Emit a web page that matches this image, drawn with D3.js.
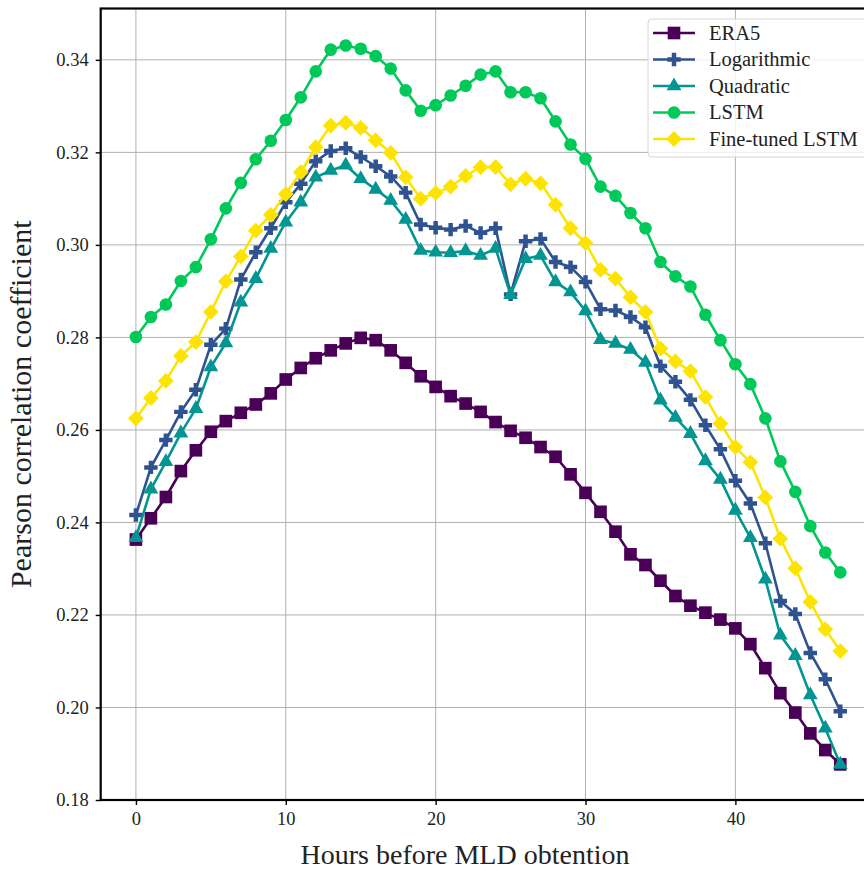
<!DOCTYPE html>
<html>
<head>
<meta charset="utf-8">
<script src="https://cdn.jsdelivr.net/npm/d3@7"></script>
<style>
    body { margin: 0; background: #fff; }
    svg { display: block; font-family: "Liberation Serif", "DejaVu Serif", serif; }
    .grid line { stroke: #b0b0b0; stroke-width: 1; }
</style>
</head>
<body>
<svg id="chart"></svg>
<script>
//----------------------------//
//            DATA            //
//----------------------------//
const hours = d3.range(0, 48);

const era5 = [0.2363, 0.2409, 0.2455, 0.2511, 0.2556, 0.2596, 0.2619, 0.2637, 0.2655, 0.2679,
    0.2709, 0.2734, 0.2755, 0.2772, 0.2787, 0.2799, 0.2794, 0.2772, 0.2745, 0.2716,
    0.2693, 0.2673, 0.2657, 0.2639, 0.2617, 0.2598, 0.2583, 0.2563, 0.2542, 0.2504,
    0.2464, 0.2423, 0.2380, 0.2331, 0.2308, 0.2274, 0.2241, 0.2220, 0.2205, 0.2190,
    0.2171, 0.2137, 0.2085, 0.2031, 0.1989, 0.1944, 0.1908, 0.1877];

const logarithmic = [0.2416, 0.2519, 0.2578, 0.2639, 0.2687, 0.2784, 0.2819, 0.2925, 0.2984, 0.3036,
    0.3092, 0.3132, 0.3181, 0.3203, 0.3209, 0.3190, 0.3170, 0.3148, 0.3113, 0.3044,
    0.3037, 0.3033, 0.3041, 0.3026, 0.3036, 0.2893, 0.3008, 0.3013, 0.2963, 0.2952,
    0.2920, 0.2861, 0.2858, 0.2844, 0.2822, 0.2738, 0.2704, 0.2665, 0.2610, 0.2558,
    0.2490, 0.2441, 0.2355, 0.2230, 0.2202, 0.2118, 0.2061, 0.1992];

const quadratic = [0.2367, 0.2472, 0.2531, 0.2593, 0.2646, 0.2736, 0.2788, 0.2876, 0.2927, 0.2992,
    0.3049, 0.3092, 0.3146, 0.3161, 0.3172, 0.3143, 0.3120, 0.3096, 0.3055, 0.2988,
    0.2984, 0.2983, 0.2987, 0.2977, 0.2992, 0.2892, 0.2970, 0.2977, 0.2920, 0.2898,
    0.2857, 0.2795, 0.2787, 0.2774, 0.2746, 0.2664, 0.2627, 0.2592, 0.2533, 0.2493,
    0.2426, 0.2367, 0.2277, 0.2156, 0.2112, 0.2027, 0.1955, 0.1877];

const lstm = [0.2801, 0.2844, 0.2871, 0.2922, 0.2952, 0.3012, 0.3079, 0.3134, 0.3185, 0.3225,
    0.3270, 0.3319, 0.3375, 0.3422, 0.3431, 0.3424, 0.3408, 0.3381, 0.3334, 0.3290,
    0.3302, 0.3323, 0.3344, 0.3368, 0.3375, 0.3330, 0.3330, 0.3317, 0.3267, 0.3217,
    0.3186, 0.3126, 0.3106, 0.3069, 0.3036, 0.2963, 0.2932, 0.2910, 0.2849, 0.2794,
    0.2742, 0.2699, 0.2625, 0.2532, 0.2466, 0.2392, 0.2335, 0.2292];

const fineTuned = [0.2625, 0.2669, 0.2706, 0.2760, 0.2790, 0.2855, 0.2921, 0.2975, 0.3031, 0.3065,
    0.3110, 0.3157, 0.3211, 0.3258, 0.3264, 0.3253, 0.3226, 0.3199, 0.3146, 0.3100,
    0.3112, 0.3126, 0.3149, 0.3168, 0.3168, 0.3131, 0.3143, 0.3133, 0.3087, 0.3036,
    0.3004, 0.2946, 0.2927, 0.2887, 0.2855, 0.2776, 0.2748, 0.2727, 0.2671, 0.2614,
    0.2563, 0.2530, 0.2454, 0.2365, 0.2301, 0.2228, 0.2169, 0.2122];

const seriesNames = ["ERA5", "Logarithmic", "Quadratic", "LSTM", "Fine-tuned LSTM"];
const seriesValues = [era5, logarithmic, quadratic, lstm, fineTuned];
const seriesColors = ["#4a0057", "#2f5290", "#039591", "#00c95a", "#fde400"];

const xTicks = [0, 10, 20, 30, 40];
const yTicks = [0.18, 0.20, 0.22, 0.24, 0.26, 0.28, 0.30, 0.32, 0.34];

//----------------------------//
//           MARKERS          //
//----------------------------//
// d3 symbol + size (area) + rotation, per series
const markers = [
    { type: d3.symbolSquare, size: 160, rotate: 0 },
    { type: d3.symbolCross, size: 100, rotate: 0 },
    { type: d3.symbolTriangle, size: 95, rotate: 0 },
    { type: d3.symbolCircle, size: 125, rotate: 0 },
    { type: d3.symbolSquare, size: 125, rotate: 45 }
];

// --- Plotting Module ---
function plotChart() {
    const W = 864, H = 871;
    const left = 100.7, top = 8.5, bottom = 800, right = 875.5;

    const svg = d3.select('#chart')
        .attr('width', W)
        .attr('height', H);

    const x = d3.scaleLinear().domain([-2.35, 49.35]).range([left, right]);
    const y = d3.scaleLinear().domain([0.18, 0.3511]).range([bottom, top]);

    // grid
    const grid = svg.append('g').attr('class', 'grid');
    grid.selectAll('.gx').data(xTicks).enter().append('line')
        .attr('x1', d => x(d)).attr('x2', d => x(d))
        .attr('y1', top).attr('y2', bottom);
    grid.selectAll('.gy').data(yTicks).enter().append('line')
        .attr('x1', left).attr('x2', right)
        .attr('y1', d => y(d)).attr('y2', d => y(d));

    // series
    const line = d3.line()
        .x((d, i) => x(hours[i]))
        .y(d => y(d));

    seriesValues.forEach((vals, k) => {
        const g = svg.append('g');
        g.append('path')
            .datum(vals)
            .attr('fill', 'none')
            .attr('stroke', seriesColors[k])
            .attr('stroke-width', 2.6)
            .attr('stroke-linejoin', 'round')
            .attr('d', line);

        const m = markers[k];
        g.selectAll('.pt')
            .data(vals)
            .enter()
            .append('path')
            .attr('d', d3.symbol().type(m.type).size(m.size))
            .attr('transform', (d, i) => `translate(${x(hours[i])},${y(d)}) rotate(${m.rotate})`)
            .attr('fill', seriesColors[k]);
    });

    // axes
    const xAxis = svg.append('g')
        .attr('transform', `translate(0,${bottom})`)
        .call(d3.axisBottom(x).tickValues(xTicks).tickSize(5).tickPadding(7).tickFormat(d3.format('d')));
    const yAxis = svg.append('g')
        .attr('transform', `translate(${left},0)`)
        .call(d3.axisLeft(y).tickValues(yTicks).tickSize(5).tickPadding(7).tickFormat(d3.format('.2f')));

    [xAxis, yAxis].forEach(a => {
        a.select('.domain').remove();
        a.selectAll('.tick line').attr('stroke', '#000').attr('stroke-width', 1.4);
        a.selectAll('.tick text')
            .attr('fill', '#222')
            .style('font-family', '"Liberation Serif", serif')
            .style('font-size', '18.5px');
    });

    // spines
    svg.append('rect')
        .attr('x', left).attr('y', top)
        .attr('width', right - left).attr('height', bottom - top)
        .attr('fill', 'none')
        .attr('stroke', '#000')
        .attr('stroke-width', 2.2);

    // axis labels
    svg.append('text')
        .attr('x', 465)
        .attr('y', 864)
        .attr('text-anchor', 'middle')
        .attr('fill', '#222')
        .style('font-size', '28px')
        .text('Hours before MLD obtention');

    svg.append('text')
        .attr('transform', `translate(31,${(top + bottom) / 2}) rotate(-90)`)
        .attr('text-anchor', 'middle')
        .attr('fill', '#222')
        .style('font-size', '30px')
        .text('Pearson correlation coefficient');

    // --- Legend ---
    const lg = svg.append('g').attr('transform', 'translate(648,19)');
    lg.append('rect')
        .attr('width', 240).attr('height', 138)
        .attr('rx', 4)
        .attr('fill', 'rgba(255,255,255,0.8)')
        .attr('stroke', '#d6d6d6')
        .attr('stroke-width', 1);

    seriesNames.forEach((name, k) => {
        const yy = 14 + k * 26.5;
        const row = lg.append('g').attr('transform', `translate(0,${yy})`);
        row.append('line')
            .attr('x1', 5).attr('x2', 47)
            .attr('stroke', seriesColors[k])
            .attr('stroke-width', 2.6);
        const m = markers[k];
        row.append('path')
            .attr('d', d3.symbol().type(m.type).size(m.size))
            .attr('transform', `translate(26,0) rotate(${m.rotate})`)
            .attr('fill', seriesColors[k]);
        row.append('text')
            .attr('x', 61)
            .attr('y', 6.5)
            .attr('fill', '#222')
            .style('font-size', '20.5px')
            .text(name);
    });
}

// --- Main Execution ---
document.addEventListener('DOMContentLoaded', () => {
    plotChart();
});
</script>
</body>
</html>
